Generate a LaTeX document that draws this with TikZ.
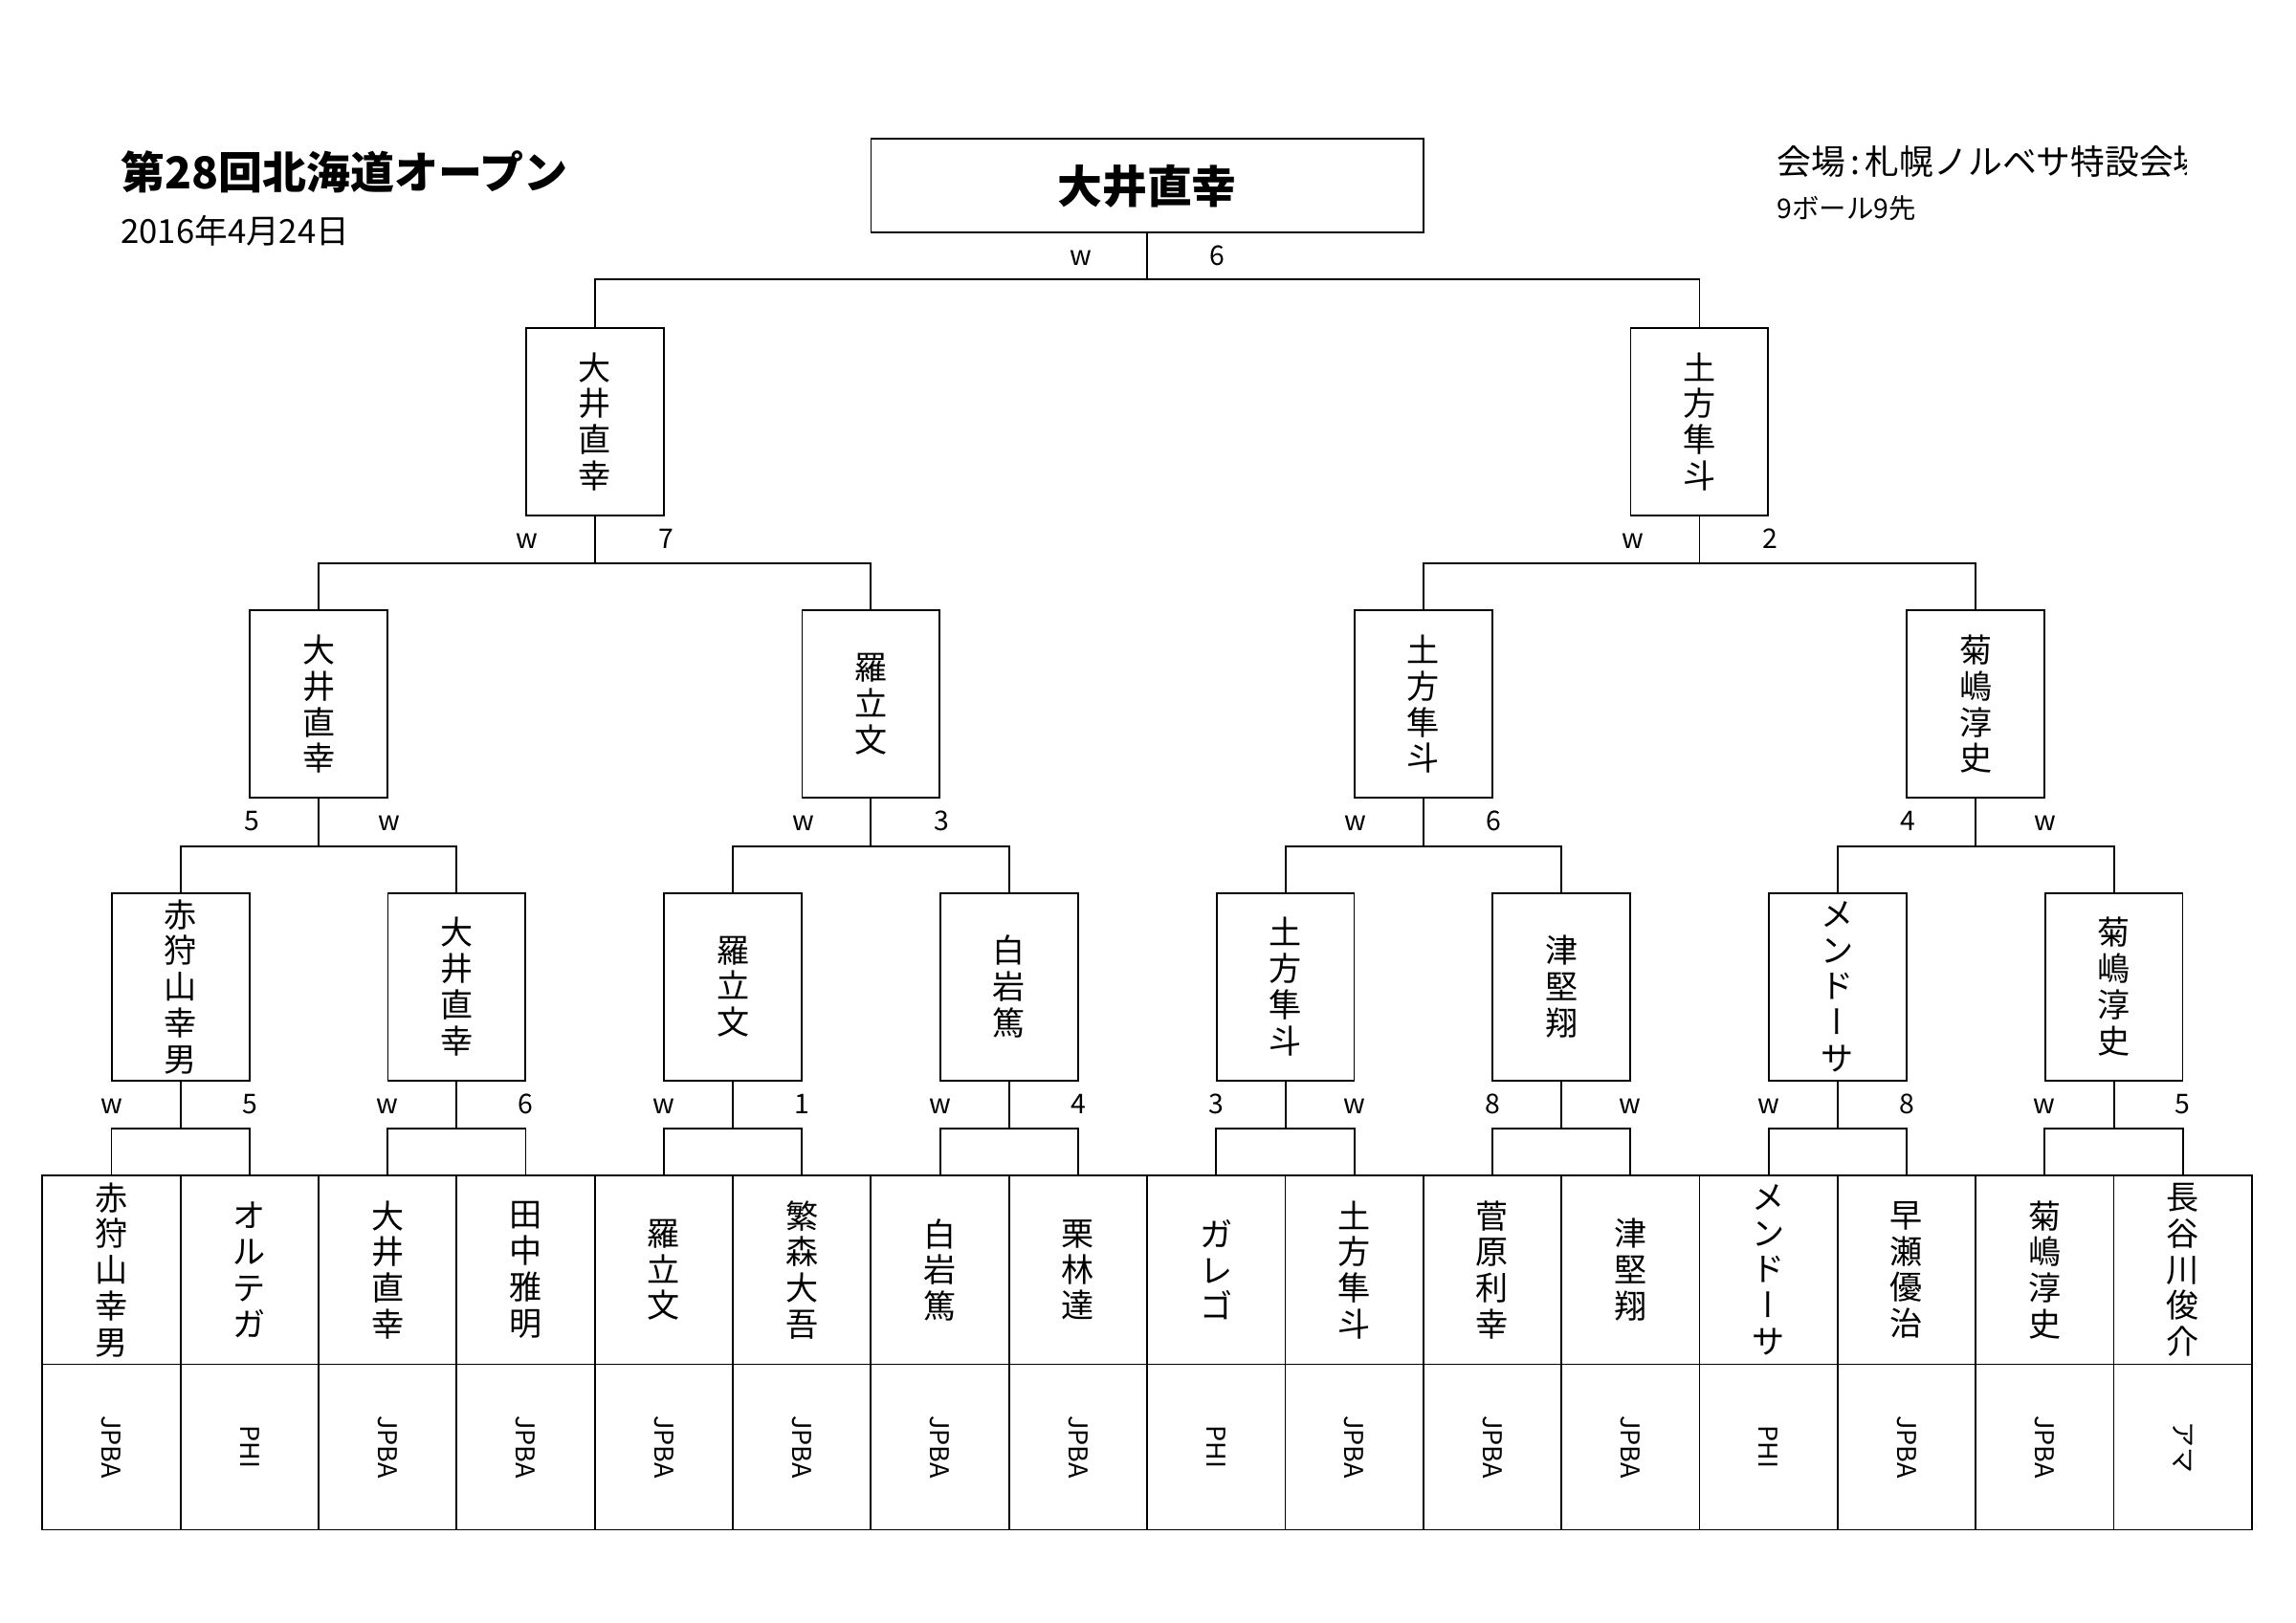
\documentclass[tikz,border=0pt]{standalone}
\usepackage{fontspec}
\usepackage{graphicx}
\newfontfamily\jp{Noto Sans CJK JP}
\newfontfamily\jpv{Noto Sans CJK JP}[RawFeature=+vert]
\newcommand\vbar{{\jpv ー}}
\begin{document}
\begin{tikzpicture}[x=0.018941cm,y=-0.018941cm,
  line width=0.65pt,
  vbox/.style={draw, inner sep=0pt, minimum width=94*0.018941cm, minimum height=128*0.018941cm,
    align=center, font=\jp\fontsize{12}{13.3}\selectfont},
  namecell/.style={draw, inner sep=0pt, minimum width=94.3*0.018941cm, minimum height=129*0.018941cm,
    align=center, font=\jp\fontsize{12}{13.3}\selectfont},
  orgcell/.style={draw, inner sep=0pt, minimum width=94.3*0.018941cm, minimum height=113*0.018941cm,
    font=\jp\fontsize{9.5}{11}\selectfont},
  lbl/.style={inner sep=0pt, anchor=base, font=\jp\fontsize{10}{12}\selectfont}
]
\useasboundingbox (0,0) rectangle (1568,1108.6);

% header texts
\node[anchor=base west, inner sep=0pt, font=\jp\bfseries\fontsize{16.2}{19}\selectfont] (title) at (82,129) {第28回北海道オープン};
\node[anchor=base west, inner sep=0pt, font=\jp\fontsize{12.2}{14}\selectfont] (date) at (82,166) {2016年4月24日};
\begin{scope}
\clip (1200,80) rectangle (1493,130);
\node[anchor=base west, inner sep=0pt, font=\jp\fontsize{12.6}{15}\selectfont] (venue) at (1213,119) {会場\kern0.15em:\kern0.15em札幌ノルベサ特設会場};
\end{scope}
\node[anchor=base west, inner sep=0pt, font=\jp\fontsize{10}{12}\selectfont] (rule) at (1213,149) {9ボール9先};

% final
\node[draw, inner sep=0pt, minimum width=377*0.018941cm, minimum height=64*0.018941cm,
  font=\jp\bfseries\fontsize{16.5}{19}\selectfont] (f) at (783.4,127) {大井直幸};

% semifinals
\node[vbox] (s1) at (406.2,288) {大\\井\\直\\幸};
\node[vbox] (s2) at (1160.6,288) {土\\方\\隼\\斗};

% quarterfinals
\node[vbox] (q1) at (217.7,481) {大\\井\\直\\幸};
\node[vbox] (q2) at (594.8,481) {羅\\立\\文};
\node[vbox] (q3) at (972,481) {土\\方\\隼\\斗};
\node[vbox] (q4) at (1349.3,481) {菊\\嶋\\淳\\史};

% round of 16
\node[vbox] (r1) at (123.4,674) {赤\\狩\\山\\幸\\男};
\node[vbox] (r2) at (311.9,674) {大\\井\\直\\幸};
\node[vbox] (r3) at (500.5,674) {羅\\立\\文};
\node[vbox] (r4) at (689.1,674) {白\\岩\\篤};
\node[vbox] (r5) at (877.8,674) {土\\方\\隼\\斗};
\node[vbox] (r6) at (1066.4,674) {津\\堅\\翔};
\node[vbox] (r7) at (1255,674) {メ\\ン\\ド\\\vbar\\サ};
\node[vbox] (r8) at (1443.6,674) {菊\\嶋\\淳\\史};

% bottom row
\foreach \i/\nm/\og in {
  1/{赤\\狩\\山\\幸\\男}/JPBA,
  2/{オ\\ル\\テ\\ガ}/PHI,
  3/{大\\井\\直\\幸}/JPBA,
  4/{田\\中\\雅\\明}/JPBA,
  5/{羅\\立\\文}/JPBA,
  6/{繁\\森\\大\\吾}/JPBA,
  7/{白\\岩\\篤}/JPBA,
  8/{栗\\林\\達}/JPBA,
  9/{ガ\\レ\\ゴ}/PHI,
  10/{土\\方\\隼\\斗}/JPBA,
  11/{菅\\原\\利\\幸}/JPBA,
  12/{津\\堅\\翔}/JPBA,
  13/{メ\\ン\\ド\\\vbar\\サ}/PHI,
  14/{早\\瀬\\優\\治}/JPBA,
  15/{菊\\嶋\\淳\\史}/JPBA,
  16/{長\\谷\\川\\俊\\介}/アマ}{
  \node[namecell] (n\i) at ({29+94.3*(\i-0.5)},867.5) {\nm};
  \node[orgcell] (o\i) at ({29+94.3*(\i-0.5)},988.5) {\rotatebox{-90}{\og}};
}

% connectors: final
\coordinate (jf) at (783.4,191);
\draw (f.south) -- (jf);
\draw (s1.north) |- (jf) -| (s2.north);
% semis
\coordinate (js1) at (406.2,385);
\coordinate (js2) at (1160.6,385);
\draw (s1.south) -- (js1);
\draw (q1.north) |- (js1) -| (q2.north);
\draw (s2.south) -- (js2);
\draw (q3.north) |- (js2) -| (q4.north);
% quarters
\foreach \q/\a/\b in {1/1/2,2/3/4,3/5/6,4/7/8}{
  \coordinate (jq\q) at (q\q.south |- 0,578);
  \draw (q\q.south) -- (jq\q);
  \draw (r\a.north) |- (jq\q) -| (r\b.north);
}
% round of 16
\foreach \r/\a/\b in {1/1/2,2/3/4,3/5/6,4/7/8,5/9/10,6/11/12,7/13/14,8/15/16}{
  \coordinate (jr\r) at (r\r.south |- 0,771);
  \draw (r\r.south) -- (jr\r);
  \draw (n\a.north) |- (jr\r) -| (n\b.north);
}

% score labels
\node[lbl] (lf1) at (738,181.5) {w};
\node[lbl] (lf2) at (831,181.5) {6};
\node[lbl] (ls1) at (360,374.5) {w};
\node[lbl] (ls2) at (455,374.5) {7};
\node[lbl] (ls3) at (1115,374.5) {w};
\node[lbl] (ls4) at (1209,374.5) {2};
\node[lbl] (lq1) at (172,567.5) {5};
\node[lbl] (lq2) at (266,567.5) {w};
\node[lbl] (lq3) at (549,567.5) {w};
\node[lbl] (lq4) at (643,567.5) {3};
\node[lbl] (lq5) at (926,567.5) {w};
\node[lbl] (lq6) at (1020,567.5) {6};
\node[lbl] (lq7) at (1303,567.5) {4};
\node[lbl] (lq8) at (1397,567.5) {w};
\foreach \i/\t in {1/w,2/5,3/w,4/6,5/w,6/1,7/w,8/4,9/3,10/w,11/8,12/w,13/w,14/8,15/w,16/5}{
  \node[lbl] (lr\i) at ({29+94.3*(\i-0.5)},760.5) {\t};
}
\end{tikzpicture}
\end{document}
